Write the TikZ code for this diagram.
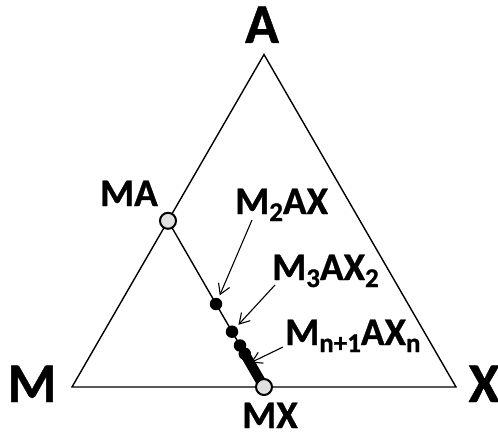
\documentclass[tikz,border=0pt]{standalone}
\usepackage{fontspec}
\setmainfont{Carlito}[BoldFeatures={FakeBold=0.8}]
\usetikzlibrary{arrows.meta}
\newcommand\lsub[1]{\raisebox{-7pt}{\fontsize{27}{27}\selectfont #1}}
\begin{document}
\begin{tikzpicture}[x=1pt,y=-1pt,
  edge/.style={line width=1.4pt, line join=miter},
  openpt/.style={circle, draw, line width=2pt, fill=black!12, minimum size=16pt, inner sep=0pt},
  dotpt/.style={circle, fill=black, minimum size=12.5pt, inner sep=0pt},
  big/.style={font=\fontsize{56}{56}\selectfont\bfseries, inner sep=0pt},
  lbl/.style={font=\fontsize{39}{39}\selectfont\bfseries, inner sep=0pt},
  ptr/.style={-{Straight Barb[length=10pt,width=12pt]}, line width=1.1pt, shorten >=3pt}]
\useasboundingbox (0,0) rectangle (498,441);
\coordinate (vM) at (72,387);
\coordinate (vX) at (456,387);
\coordinate (vA) at (264,54.5);
\coordinate (pMA) at (168,220.8);
\coordinate (pMX) at (264,387);
\draw[edge] (vM) -- (vA) -- (vX) -- cycle;
\draw[edge] (pMA) -- (pMX);
\draw[line width=10pt] (244.8,353.8) -- (pMX);
\node[dotpt] (d1) at (216,304) {};
\node[dotpt] (d2) at (232,331.7) {};
\node[dotpt] (d3) at (240,345.5) {};
\node[dotpt] (d4) at (244.8,353.8) {};
\node[openpt] (ma) at (pMA) {};
\node[openpt] (mx) at (pMX) {};
\node[big, anchor=base] (tA) at (262,43) {A};
\node[big, anchor=base] (tM) at (32,402) {M};
\node[big, anchor=base] (tX) at (484,402) {X};
\node[lbl, anchor=base east] (tMA) at (158,206) {MA};
\node[lbl, anchor=base] (tMX) at (270,428) {MX};
\node[lbl, anchor=base west] (t1) at (235,214) {M\lsub{2}AX};
\node[lbl, anchor=base west] (t2) at (272,280) {M\lsub{3}AX\lsub{2}};
\node[lbl, anchor=base west] (t3) at (285,345) {M\lsub{n+1}AX\lsub{n}};
\coordinate (s1) at (252,220);
\coordinate (s2) at (275,285);
\coordinate (s3) at (283,347);
\coordinate (e3) at (250,363);
\draw[ptr] (s1) -- (d1);
\draw[ptr] (s2) -- (d2);
\draw[ptr, shorten >=1pt] (s3) -- (e3);
\end{tikzpicture}
\end{document}
